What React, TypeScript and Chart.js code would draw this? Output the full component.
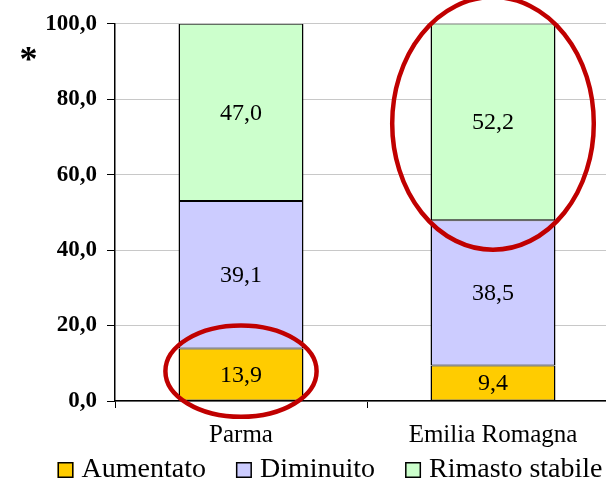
import React, { useEffect, useRef } from "react";
import { Chart, registerables } from "chart.js";

Chart.register(...registerables);

const categories = ["Parma", "Emilia Romagna"];
const seriesNames = ["Aumentato", "Diminuito", "Rimasto stabile"];
const aumentato = [13.9, 9.4];
const diminuito = [39.1, 38.5];
const rimastoStabile = [47.0, 52.2];
const seriesColors = ["#FFCC00", "#CCCCFF", "#CCFFCC"];
const yMin = 0;
const yMax = 100;
const yStep = 20;

// red highlight ellipses (annotation): category index, centre value, radius in value units, radius in category widths
const highlightCategory = [0, 1];
const highlightCenter = [7.9, 73.6];
const highlightRadiusValue = [12.1, 33.5];
const highlightRadiusCategory = [0.3, 0.4];

const FONT = "'Liberation Serif', 'Times New Roman', serif";

const fmt = (v: number) => v.toFixed(1).replace(".", ",");

const overlayPlugin = {
  id: "overlay",
  afterDatasetsDraw(chart: any) {
    const ctx = chart.ctx;
    ctx.save();
    ctx.font = `24px ${FONT}`;
    ctx.fillStyle = "#000";
    ctx.textAlign = "center";
    ctx.textBaseline = "middle";
    chart.data.datasets.forEach((ds: any, di: number) => {
      const meta = chart.getDatasetMeta(di);
      meta.data.forEach((bar: any, i: number) => {
        const v = ds.data[i];
        const y = (bar.y + bar.base) / 2;
        ctx.fillText(fmt(v), bar.x, y + 1);
      });
    });
    ctx.restore();
  },
  afterDraw(chart: any) {
    const ctx = chart.ctx;
    const xs = chart.scales.x;
    const ys = chart.scales.y;
    const catW = (xs.right - xs.left) / categories.length;
    ctx.save();
    ctx.strokeStyle = "#C00000";
    ctx.lineWidth = 4.5;
    highlightCategory.forEach((ci, k) => {
      const cx = xs.getPixelForValue(ci);
      const cy = ys.getPixelForValue(highlightCenter[k]);
      const ry = Math.abs(ys.getPixelForValue(highlightRadiusValue[k]) - ys.getPixelForValue(0));
      const rx = catW * highlightRadiusCategory[k];
      ctx.beginPath();
      ctx.ellipse(cx, cy, rx, ry, 0, 0, Math.PI * 2);
      ctx.stroke();
    });

    // asterisk
    ctx.font = `bold 36px ${FONT}`;
    ctx.fillStyle = "#000";
    const m = ctx.measureText("*");
    const w = m.actualBoundingBoxLeft + m.actualBoundingBoxRight;
    const h = m.actualBoundingBoxAscent + m.actualBoundingBoxDescent;
    ctx.textAlign = "left";
    ctx.textBaseline = "alphabetic";
    ctx.fillText("*", 28.5 - w / 2 + m.actualBoundingBoxLeft, 54 - h / 2 + m.actualBoundingBoxAscent);

    // legend (drawn from the datasets)
    const boxSize = 16;
    const boxGap = 8;
    const itemGap = 30;
    ctx.font = `28px ${FONT}`;
    const items = chart.data.datasets.map((ds: any) => ({
      text: ds.label,
      color: ds.backgroundColor,
      w: ctx.measureText(ds.label).width,
    }));
    const total =
      items.reduce((s: number, it: any) => s + boxSize + boxGap + it.w, 0) + itemGap * (items.length - 1);
    let x = chart.width / 2 - total / 2;
    const baseline = 477;
    const boxTop = 462;
    ctx.textBaseline = "alphabetic";
    ctx.textAlign = "left";
    items.forEach((it: any) => {
      ctx.fillStyle = it.color;
      ctx.fillRect(x, boxTop, boxSize, boxSize);
      ctx.strokeStyle = "#000";
      ctx.lineWidth = 1.5;
      ctx.strokeRect(x + 0.75, boxTop + 0.75, boxSize - 1.5, boxSize - 1.5);
      ctx.fillStyle = "#000";
      ctx.fillText(it.text, x + boxSize + boxGap, baseline);
      x += boxSize + boxGap + it.w + itemGap;
    });
    ctx.restore();
  },
};

export default function App() {
  const ref = useRef<HTMLCanvasElement>(null);
  useEffect(() => {
    if (!ref.current) return;
    const series = [aumentato, diminuito, rimastoStabile];
    const chart = new Chart(ref.current, {
      type: "bar",
      data: {
        labels: categories,
        datasets: series.map((d, i) => ({
          label: seriesNames[i],
          data: d,
          backgroundColor: seriesColors[i],
          borderColor: "#000",
          borderWidth: { top: 1, bottom: 1, left: 1.5, right: 1.5 },
          borderSkipped: false,
          barPercentage: 0.496,
          categoryPercentage: 1,
        })),
      },
      options: {
        responsive: false,
        animation: false,
        devicePixelRatio: 1,
        layout: { padding: { left: 45, right: 41, top: 20, bottom: 32 } },
        plugins: {
          legend: { display: false },
          tooltip: { enabled: false },
        },
        scales: {
          x: {
            stacked: true,
            grid: {
              offset: true,
              drawOnChartArea: false,
              drawTicks: true,
              tickLength: 7,
              color: "#000",
              lineWidth: 1,
            },
            border: { color: "#000", width: 1.5 },
            ticks: {
              color: "#000",
              padding: 12,
              font: { family: FONT, size: 25 },
            },
            afterFit: (scale: any) => {
              scale.height = 50;
            },
          },
          y: {
            stacked: true,
            min: yMin,
            max: yMax,
            grid: {
              color: "#c8c8c8",
              tickColor: "#000",
              tickLength: 8,
              lineWidth: 1,
            },
            border: { color: "#000", width: 1.5 },
            ticks: {
              stepSize: yStep,
              color: "#000",
              padding: 10,
              font: { family: FONT, size: 23, weight: "bold" },
              callback: (v: any) => fmt(Number(v)),
            },
            afterFit: (scale: any) => {
              scale.width = 70;
            },
          },
        },
      },
      plugins: [overlayPlugin],
    });
    return () => chart.destroy();
  }, []);
  return (
    <div
      style={{
        position: "fixed",
        left: 0,
        top: 0,
        width: 606,
        height: 483,
        overflow: "hidden",
        background: "#fff",
      }}
    >
      <canvas ref={ref} width={660} height={483} style={{ display: "block", width: 660, height: 483 }} />
    </div>
  );
}
